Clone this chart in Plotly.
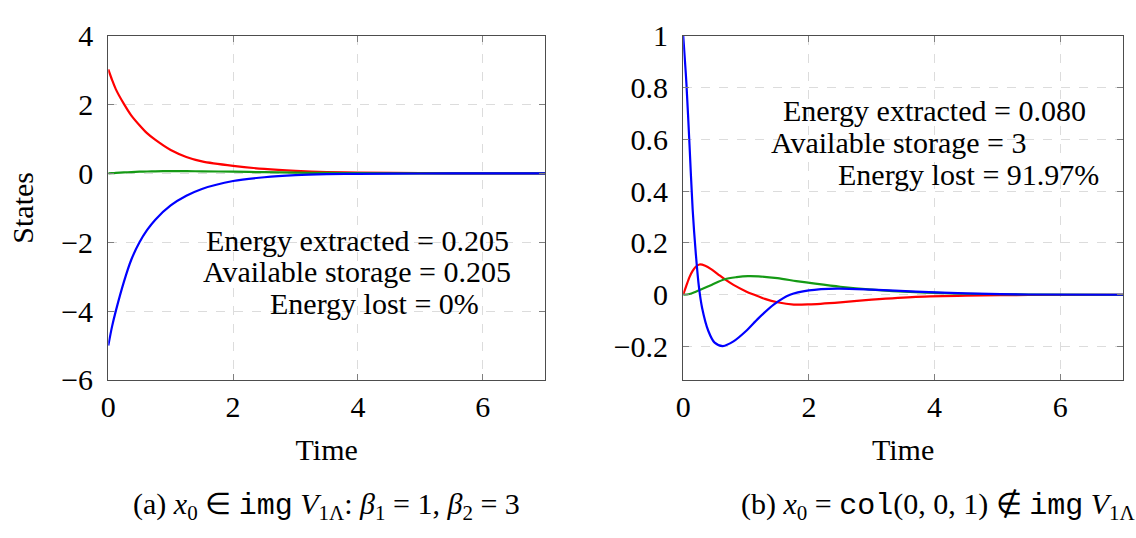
import plotly.graph_objects as go

W, H = 1136, 538

# ---------- data ----------
# Panel (a)
t_a = [0, 0.06, 0.12, 0.25, 0.37, 0.5, 0.62, 0.75, 1.0, 1.25, 1.5, 2.0, 2.5, 3.0, 3.5, 4.0, 5.0, 6.0, 7.0]
red_a = [3.02, 2.72, 2.45, 2.02, 1.68, 1.4, 1.17, 0.98, 0.68, 0.48, 0.35, 0.22, 0.13, 0.075, 0.042, 0.024, 0.008, 0.002, 0.0]
green_a = [0.0, 0.007, 0.015, 0.03, 0.04, 0.05, 0.057, 0.062, 0.068, 0.066, 0.062, 0.05, 0.036, 0.024, 0.015, 0.008, 0.002, 0.0, 0.0]
blue_a = [-5.0, -4.45, -4.0, -3.15, -2.5, -2.0, -1.65, -1.35, -0.93, -0.65, -0.45, -0.22, -0.11, -0.05, -0.022, -0.01, -0.002, 0.0, 0.0]

# Panel (b)
t_b_blue = [0, 0.05, 0.1, 0.15, 0.2, 0.25, 0.3, 0.4, 0.5, 0.63, 0.8, 1.0, 1.2, 1.45, 1.7, 2.0, 2.45, 3.0, 3.7, 4.5, 5.5, 7.0]
blue_b = [1.0, 0.82, 0.58, 0.33, 0.16, 0.03, -0.05, -0.14, -0.185, -0.198, -0.18, -0.14, -0.09, -0.036, 0.0, 0.017, 0.024, 0.02, 0.012, 0.005, 0.001, 0.0]
t_b_red = [0, 0.05, 0.1, 0.15, 0.2, 0.26, 0.35, 0.45, 0.55, 0.66, 0.8, 1.0, 1.13, 1.3, 1.5, 1.76, 2.0, 2.5, 3.0, 3.7, 4.5, 5.5, 7.0]
red_b = [0.0, 0.035, 0.068, 0.092, 0.108, 0.117, 0.112, 0.098, 0.08, 0.06, 0.038, 0.013, 0.0, -0.016, -0.029, -0.038, -0.037, -0.029, -0.019, -0.008, -0.003, -0.001, 0.0]
t_b_green = [0, 0.1, 0.2, 0.3, 0.45, 0.66, 0.85, 1.03, 1.2, 1.5, 1.8, 2.1, 2.5, 3.0, 3.7, 4.5, 5.5, 7.0]
green_b = [0.0, 0.003, 0.012, 0.022, 0.038, 0.06, 0.068, 0.072, 0.071, 0.064, 0.053, 0.043, 0.031, 0.02, 0.01, 0.004, 0.001, 0.0]

xticks = [0, 2, 4, 6]
yticks_a = [-6, -4, -2, 0, 2, 4]
yticklabels_a = ["\u22126", "\u22124", "\u22122", "0", "2", "4"]
yticks_b = [-0.2, 0, 0.2, 0.4, 0.6, 0.8, 1]
yticklabels_b = ["\u22120.2", "0", "0.2", "0.4", "0.6", "0.8", "1"]

texts_a = ["Energy extracted = 0.205", "Available storage = 0.205", "Energy lost = 0%"]
texts_b = ["Energy extracted = 0.080", "Available storage = 3", "Energy lost = 91.97%"]

RED, GREEN, BLUE = "#ff0000", "#159a15", "#0000ff"
FONT = "Liberation Serif, serif"
MONO = "Liberation Mono, monospace"
FS = 30

def px(x):
    return x / W

def py(y):
    return 1 - y / H

fig = go.Figure()

def add(x, y, color, xa, ya):
    fig.add_trace(go.Scatter(x=x, y=y, mode="lines", xaxis=xa, yaxis=ya,
                             line=dict(color=color, width=2.2, shape="spline", smoothing=0.8),
                             showlegend=False, hoverinfo="skip"))

add(t_a, red_a, RED, "x", "y")
add(t_a, green_a, GREEN, "x", "y")
add(t_a, blue_a, BLUE, "x", "y")
add(t_b_red, red_b, RED, "x2", "y2")
add(t_b_green, green_b, GREEN, "x2", "y2")
add(t_b_blue, blue_b, BLUE, "x2", "y2")

top, bot = 21, 387
common = dict(showline=True, mirror="ticks", linecolor="#4d4d4d", linewidth=1.3,
              ticks="inside", ticklen=6, tickcolor="#808080", tickwidth=1.2,
              showgrid=True, gridcolor="#dcdcdc", griddash="dash", gridwidth=1,
              zeroline=False, tickfont=dict(family=FONT, size=FS, color="black"))

fig.update_layout(
    width=W, height=H, margin=dict(l=0, r=0, t=0, b=0),
    paper_bgcolor="white", plot_bgcolor="white",
    font=dict(family=FONT, size=FS, color="black"),
    xaxis=dict(domain=[px(101), px(541)], range=[0, 7], tickvals=xticks,
               anchor="y", ticklabelstandoff=0,
               title=dict(text="Time", font=dict(family=FONT, size=FS), standoff=16), **common),
    yaxis=dict(domain=[py(bot), py(top)], range=[-6, 4], tickvals=yticks_a, ticktext=yticklabels_a,
               anchor="x", ticklabelstandoff=8,
               title=dict(text="States", font=dict(family=FONT, size=FS), standoff=18), **common),
    xaxis2=dict(domain=[px(680), px(1123)], range=[0, 7], tickvals=xticks,
                anchor="y2", ticklabelstandoff=0,
                title=dict(text="Time", font=dict(family=FONT, size=FS), standoff=16), **common),
    yaxis2=dict(domain=[py(bot), py(top)], range=[-0.329, 1], tickvals=yticks_b, ticktext=yticklabels_b,
                anchor="x2", ticklabelstandoff=8, **common),
)

ann = []
for txt, cx, cy in zip(texts_a, [352, 351, 369], [239, 272, 306]):
    ann.append(dict(text=txt, x=px(cx), y=py(cy), xref="paper", yref="paper",
                    xanchor="center", yanchor="middle", showarrow=False,
                    font=dict(family=FONT, size=FS)))
for txt, cx, cy in zip(texts_b, [933, 897, 967], [101, 135, 168]):
    ann.append(dict(text=txt, x=px(cx), y=py(cy), xref="paper", yref="paper",
                    xanchor="center", yanchor="middle", showarrow=False,
                    font=dict(family=FONT, size=FS)))

mono = "<span style=\"font-family:" + MONO + "\">{}</span>"
cap_a = ("(a) <i>x</i><sub>0</sub> \u2208 " + mono.format("img") +
         " <i>V</i><sub>1\u039b</sub>: <i>\u03b2</i><sub>1</sub> = 1, <i>\u03b2</i><sub>2</sub> = 3")
cap_b = ("(b) <i>x</i><sub>0</sub> = " + mono.format("col") + "(0, 0, 1) \u2209 " +
         mono.format("img") + " <i>V</i><sub>1\u039b</sub>")
ann.append(dict(text=cap_a, x=px(321), y=py(521), xref="paper", yref="paper",
                xanchor="center", yanchor="middle", showarrow=False, font=dict(family=FONT, size=FS)))
ann.append(dict(text=cap_b, x=px(937), y=py(521), xref="paper", yref="paper",
                xanchor="center", yanchor="middle", showarrow=False, font=dict(family=FONT, size=FS)))
fig.update_layout(annotations=ann)

fig.write_html("out.html")
